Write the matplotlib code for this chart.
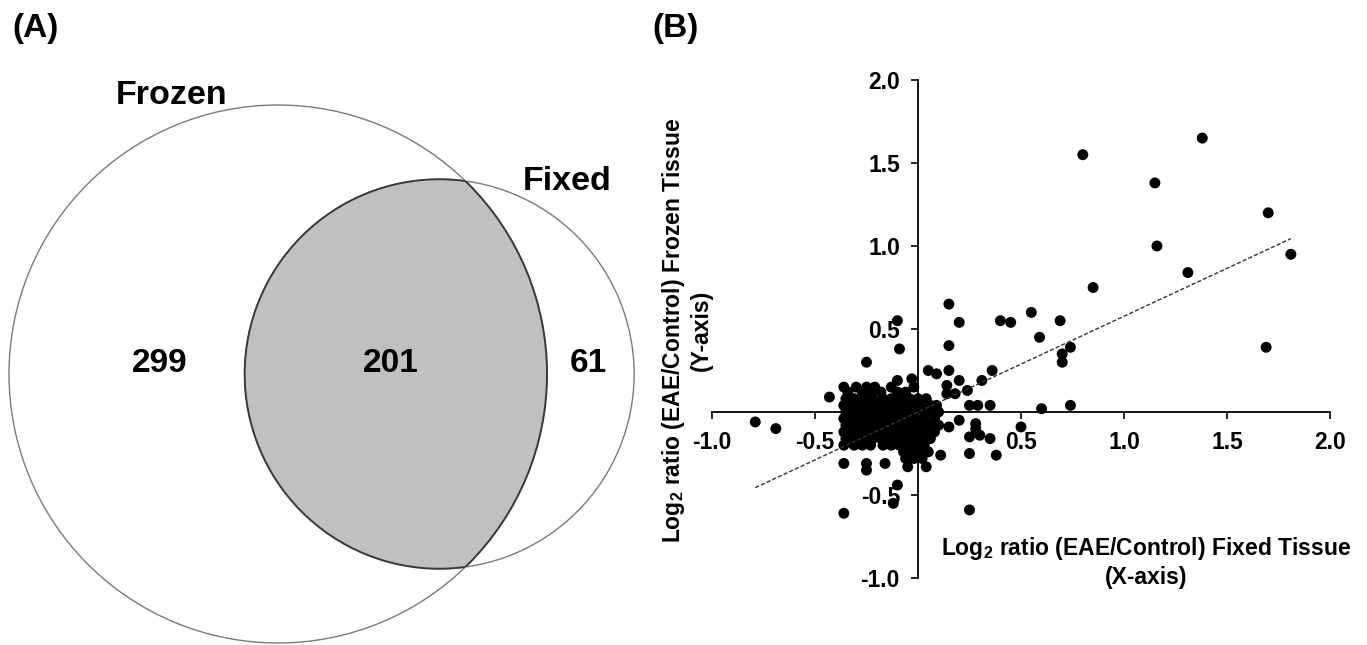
import numpy as np
import matplotlib.pyplot as plt
from matplotlib.patches import Circle

plt.rcParams['font.family'] = ['Liberation Sans', 'DejaVu Sans']
plt.rcParams['mathtext.fontset'] = 'custom'
plt.rcParams['mathtext.rm'] = 'Liberation Sans'
plt.rcParams['mathtext.bf'] = 'Liberation Sans:bold'

# ── Venn data ──────────────────────────────────────────────
set_names = ["Frozen", "Fixed"]
only_frozen = 299
shared = 201
only_fixed = 61

# ── Scatter data (log2 EAE/Control) ───────────────────────
# points outside the dense cluster
outer_fixed = [0.80, 1.38, 1.15, 1.70, 1.16, 1.81, 1.31, 0.85, 0.15, -0.10,
               0.20, 0.40, 0.45, 0.55, 0.69, 0.59, 0.15, -0.09, 0.74, 0.70,
               0.70, 1.69, -0.25, 0.05, 0.09, 0.15, 0.20, 0.36, 0.31, 0.14,
               0.14, 0.18, 0.24, -0.03, -0.10, -0.43, 0.25, 0.29, 0.35, 0.60,
               0.74, -0.79, -0.69, 0.15, 0.20, 0.28, 0.28, 0.25, 0.30, 0.35,
               0.50, 0.25, 0.38, 0.11, -0.36, -0.25, -0.25, -0.16, -0.10, -0.12,
               -0.36, 0.25]
outer_frozen = [1.55, 1.65, 1.38, 1.20, 1.00, 0.95, 0.84, 0.75, 0.65, 0.55,
                0.54, 0.55, 0.54, 0.60, 0.55, 0.45, 0.40, 0.38, 0.39, 0.35,
                0.30, 0.39, 0.30, 0.25, 0.23, 0.25, 0.19, 0.25, 0.19, 0.16,
                0.11, 0.11, 0.13, 0.20, 0.19, 0.09, 0.04, 0.04, 0.04, 0.02,
                0.04, -0.06, -0.10, -0.09, -0.05, -0.07, -0.10, -0.15, -0.14, -0.16,
                -0.09, -0.25, -0.26, -0.26, -0.31, -0.31, -0.35, -0.31, -0.44, -0.55,
                -0.61, -0.59]

# dense cluster near the origin, row by row (frozen value -> fixed values)
cluster_frozen = [0.15, 0.12, 0.08, 0.04, 0.00, -0.04, -0.08, -0.12, -0.16, -0.20,
                  -0.24, -0.28, -0.33]
cluster_fixed = [
    [-0.36, -0.30, -0.25, -0.21, -0.13, -0.02],
    [-0.34, -0.27, -0.23, -0.18, -0.10, -0.06],
    [-0.35, -0.31, -0.26, -0.22, -0.17, -0.13, -0.08, -0.04, 0.00, 0.04],
    [-0.36, -0.32, -0.28, -0.24, -0.20, -0.15, -0.11, -0.07, -0.03, 0.02, 0.06, 0.09],
    [-0.35, -0.30, -0.26, -0.22, -0.18, -0.14, -0.10, -0.06, -0.02, 0.03, 0.07, 0.10],
    [-0.36, -0.33, -0.29, -0.25, -0.21, -0.17, -0.13, -0.09, -0.05, -0.01, 0.03, 0.08],
    [-0.35, -0.31, -0.27, -0.23, -0.19, -0.15, -0.11, -0.07, -0.03, 0.01, 0.05, 0.10],
    [-0.36, -0.32, -0.28, -0.24, -0.20, -0.16, -0.12, -0.08, -0.04, 0.00, 0.04, 0.08],
    [-0.35, -0.30, -0.26, -0.22, -0.18, -0.14, -0.10, -0.06, -0.02, 0.02, 0.06],
    [-0.36, -0.31, -0.27, -0.23, -0.17, -0.13, -0.09, -0.05, -0.01, 0.03],
    [-0.07, -0.03, 0.00, 0.05],
    [-0.06, -0.02, 0.02],
    [-0.05, 0.04],
]

# regression line
fit_slope = 0.577
fit_intercept = 0.0

ticks = [-1.0, -0.5, 0.5, 1.0, 1.5, 2.0]


def overlap_area(r1, r2, d):
    """Area of the lens shared by two circles."""
    a1 = np.arccos((d**2 + r1**2 - r2**2) / (2 * d * r1))
    a2 = np.arccos((d**2 + r2**2 - r1**2) / (2 * d * r2))
    k = np.sqrt((-d + r1 + r2) * (d + r1 - r2) * (d - r1 + r2) * (d + r1 + r2))
    return r1**2 * a1 + r2**2 * a2 - 0.5 * k


def venn_distance(r1, r2, target):
    lo, hi = abs(r1 - r2) + 1e-9, r1 + r2 - 1e-9
    for _ in range(80):
        mid = 0.5 * (lo + hi)
        if overlap_area(r1, r2, mid) > target:
            lo = mid
        else:
            hi = mid
    return 0.5 * (lo + hi)


fig = plt.figure(figsize=(13.67, 6.45), dpi=100)

# ── (A) Venn, drawn in pixel units on a full-figure axes ──
axv = fig.add_axes([0, 0, 1, 1])
axv.set_xlim(0, 1367)
axv.set_ylim(645, 0)
axv.axis("off")

r1 = np.sqrt((only_frozen + shared) / np.pi)
r2 = np.sqrt((only_fixed + shared) / np.pi)
d = venn_distance(r1, r2, shared)
px = 269 / r1                     # pixels per unit radius
cx1, cy = 278, 374
cx2 = cx1 + d * px
R1, R2 = r1 * px, r2 * px

light = "#7a7a7a"
dark = "#3a3a3a"
axv.add_patch(Circle((cx1, cy), R1, fill=False, ec=light, lw=1.0))
axv.add_patch(Circle((cx2, cy), R2, fill=False, ec=light, lw=1.0))

clip1 = Circle((cx1, cy), R1, transform=axv.transData)
clip2 = Circle((cx2, cy), R2, transform=axv.transData)
lens = Circle((cx2, cy), R2, fc="#c0c0c0", ec="none")
axv.add_patch(lens)
lens.set_clip_path(clip1)
e2 = Circle((cx2, cy), R2, fill=False, ec=dark, lw=1.4)
axv.add_patch(e2)
e2.set_clip_path(clip1)
e1 = Circle((cx1, cy), R1, fill=False, ec=dark, lw=1.4)
axv.add_patch(e1)
e1.set_clip_path(clip2)

axv.text(172, 95, set_names[0], fontsize=24.5, fontweight="bold", ha="center", va="center")
axv.text(567, 181, set_names[1], fontsize=24.5, fontweight="bold", ha="center", va="center")
axv.text(160, 364, str(only_frozen), fontsize=24, fontweight="bold", ha="center", va="center")
axv.text(391, 364, str(shared), fontsize=24, fontweight="bold", ha="center", va="center")
axv.text(588, 364, str(only_fixed), fontsize=24, fontweight="bold", ha="center", va="center")

axv.text(35, 29, "(A)", fontsize=24, fontweight="bold", ha="center", va="center")
axv.text(676, 29, "(B)", fontsize=24, fontweight="bold", ha="center", va="center")

# ── (B) Scatter ───────────────────────────────────────────
ax = fig.add_axes([712 / 1367, 1 - 578 / 645, 618 / 1367, 498 / 645])
ax.patch.set_alpha(0)

xs = list(outer_fixed)
ys = list(outer_frozen)
for yv, row in zip(cluster_frozen, cluster_fixed):
    xs += row
    ys += [yv] * len(row)
xs = np.array(xs)
ys = np.array(ys)

ax.scatter(xs, ys, s=62, color="black", edgecolors="none", zorder=3, clip_on=False)

x_fit = np.array([xs.min(), xs.max()])
ax.plot(x_fit, fit_slope * x_fit + fit_intercept, color="#333333",
        lw=1.0, dashes=(3, 1.5), zorder=4)

ax.set_xlim(-1, 2)
ax.set_ylim(-1, 2)
for side in ["top", "right"]:
    ax.spines[side].set_visible(False)
ax.spines["left"].set_position(("data", 0))
ax.spines["bottom"].set_position(("data", 0))
for side in ["left", "bottom"]:
    ax.spines[side].set_linewidth(1.3)
    ax.spines[side].set_zorder(2)

ax.set_xticks(ticks)
ax.set_yticks(ticks)
ax.set_xticklabels([f"{t:.1f}" for t in ticks])
ax.set_yticklabels([f"{t:.1f}" for t in ticks])
ax.tick_params(axis="x", direction="out", length=5, width=1.2, labelsize=16.5, pad=9)
ax.tick_params(axis="y", direction="out", length=5, width=1.2, labelsize=16.5, pad=8)
for lab in ax.get_xticklabels() + ax.get_yticklabels():
    lab.set_fontweight("bold")

# axis titles, one text per line
ax.text(1.107, -0.825, "Log$_{\\mathbf{2}}$ ratio (EAE/Control) Fixed Tissue",
        fontsize=16.5, fontweight="bold", ha="center", va="center")
ax.text(1.107, -0.995, "(X-axis)",
        fontsize=16.5, fontweight="bold", ha="center", va="center")
ax.text(-1.187, 0.49, "Log$_{\\mathbf{2}}$ ratio (EAE/Control) Frozen Tissue",
        fontsize=16.5, fontweight="bold", ha="center", va="center", rotation=90)
ax.text(-1.05, 0.49, "(Y-axis)",
        fontsize=16.5, fontweight="bold", ha="center", va="center", rotation=90)

fig.savefig("out.png", dpi=100, facecolor="white")
